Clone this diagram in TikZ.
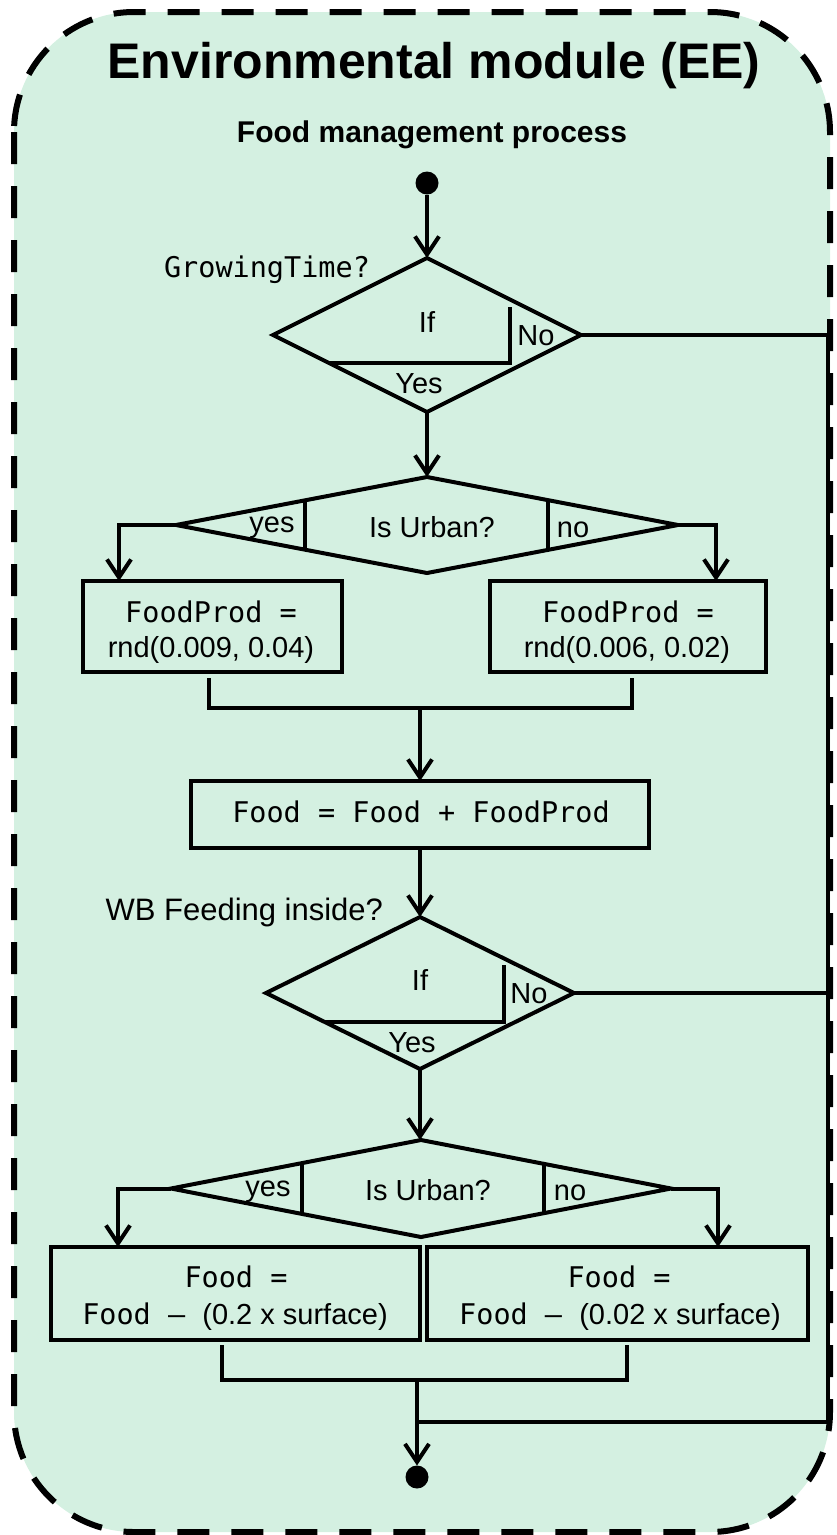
\documentclass[tikz,border=0pt]{standalone}
\usepackage{fontspec}
\setmainfont{Liberation Sans}
\newfontfamily\monof{DejaVu Sans Mono}
\usetikzlibrary{shapes.geometric,arrows.meta,calc}
\definecolor{mint}{RGB}{212,240,225}

\begin{document}
\begin{tikzpicture}[x=1pt,y=-1pt,
  every node/.style={inner sep=0pt, outer sep=0pt},
  frame/.style={draw=black, line width=6pt, dash pattern=on 32pt off 22pt, fill=mint, rounded corners=120pt},
  dec/.style={diamond, draw, line width=4pt},
  proc/.style={rectangle, draw, line width=4pt},
  flow/.style={line width=4pt},
  arr/.style={flow, -{Straight Barb[length=18pt,width=24pt]}},
  part/.style={line width=3.5pt},
  lbl/.style={font=\fontsize{29}{34}\selectfont, anchor=base},
  code/.style={font=\monof\fontsize{28.5}{34}\selectfont, anchor=base},
  dot/.style={circle, fill=black, minimum size=23pt}
]
\useasboundingbox (0,0) rectangle (837,1535);

% module frame
\draw[frame] (14,12) rectangle (830,1532);

% headings
\node[font=\bfseries\fontsize{50}{60}\selectfont, anchor=base] (title) at (434,78) {Environmental module (EE)};
\node[font=\bfseries\fontsize{30}{36}\selectfont, anchor=base] (sub) at (432,142) {Food management process};

% start
\node[dot] (start) at (427,183) {};

% decision: growing time
\node[dec, minimum width=308pt, minimum height=154pt] (d1) at (427,335) {};
\draw[part] (328,363) -- (510,363) -- (510,307);
\node[lbl] (if1) at (427,332) {If};
\node[lbl] (no1) at (536,345) {No};
\node[lbl] (yes1) at (419,393) {Yes};
\node[code] (q1) at (267,277) {GrowingTime?};

% decision: urban (production)
\node[dec, minimum width=502pt, minimum height=96pt] (d2) at (427,525) {};
\draw[part] (305,500) -- (305,550);
\draw[part] (548,500) -- (548,550);
\node[lbl] (yes2) at (272,532) {yes};
\node[lbl] (urb2) at (432,537) {Is Urban?};
\node[lbl] (no2) at (573,537) {no};

% production boxes
\node[proc, minimum width=259pt, minimum height=91pt] (ba) at (212,626.5) {};
\node[code] (ta1) at (211,622) {FoodProd =};
\node[lbl] (ta2) at (211,657) {rnd(0.009, 0.04)};
\node[proc, minimum width=276pt, minimum height=91pt] (bb) at (628,626.5) {};
\node[code] (tb1) at (628,622) {FoodProd =};
\node[lbl] (tb2) at (627,657) {rnd(0.006, 0.02)};

% food update
\node[proc, minimum width=458pt, minimum height=67pt] (b3) at (420,814.5) {};
\node[code] (t3) at (421,822) {Food = Food + FoodProd};

% decision: feeding inside
\node[dec, minimum width=308pt, minimum height=152pt] (d3) at (420,993) {};
\draw[part] (325,1022) -- (504,1022) -- (504,965);
\node[lbl] (if3) at (420,990) {If};
\node[lbl] (no3) at (529,1003) {No};
\node[lbl] (yes3) at (412,1052) {Yes};
\node[lbl, anchor=base east, font=\fontsize{31}{36}\selectfont] (q3) at (383,920) {WB Feeding inside?};

% decision: urban (consumption)
\node[dec, minimum width=500pt, minimum height=97pt] (d4) at (421,1188.5) {};
\draw[part] (302,1163) -- (302,1214);
\draw[part] (544,1164) -- (544,1213);
\node[lbl] (yes4) at (268,1196) {yes};
\node[lbl] (urb4) at (428,1200) {Is Urban?};
\node[lbl] (no4) at (570,1200) {no};

% consumption boxes
\node[proc, minimum width=369pt, minimum height=93pt] (b5) at (235.5,1293.5) {};
\node[code] (t5a) at (236,1287) {Food =};
\node[lbl] (t5b) at (235,1324) {{\monof\fontsize{28.5}{34}\selectfont Food – }(0.2 x surface)};
\node[proc, minimum width=381pt, minimum height=93pt] (b6) at (617.5,1293.5) {};
\node[code] (t6a) at (619,1287) {Food =};
\node[lbl] (t6b) at (620,1324) {{\monof\fontsize{28.5}{34}\selectfont Food – }(0.02 x surface)};

% end
\node[dot] (end) at (417,1477) {};

% junction points
\coordinate (m1) at (420,708);
\coordinate (m2) at (417,1380);
\coordinate (j1) at (828,1422);
\coordinate (j2) at (417,1422);

% connectors
\draw[arr] (start) -- (d1.north);
\draw[arr] (d1.south) -- (d2.north);
\draw[arr] (d2.west) -| ([xshift=-93pt]ba.north);
\draw[arr] (d2.east) -| ([xshift=88pt]bb.north);
\draw[flow] ([xshift=-3pt,yshift=-6pt]ba.south) |- (m1) -| ([xshift=4pt,yshift=-6pt]bb.south);
\draw[arr] (m1) -- (b3.north);
\draw[arr] (b3.south) -- (d3.north);
\draw[arr] (d3.south) -- (d3.south |- d4.north);
\draw[arr] (d4.west) -| ([xshift=-117.5pt]b5.north);
\draw[arr] (d4.east) -| ([xshift=100.5pt]b6.north);
\draw[flow] ([xshift=-13.5pt,yshift=-5pt]b5.south) |- (m2) -| ([xshift=9.5pt,yshift=-5pt]b6.south);
\draw[arr] (m2) -- (end);
\draw[flow] (d1.east) -| (j1) -- (j2);
\draw[flow] (d3.east) -- (d3.east -| j1);
\end{tikzpicture}
\end{document}
